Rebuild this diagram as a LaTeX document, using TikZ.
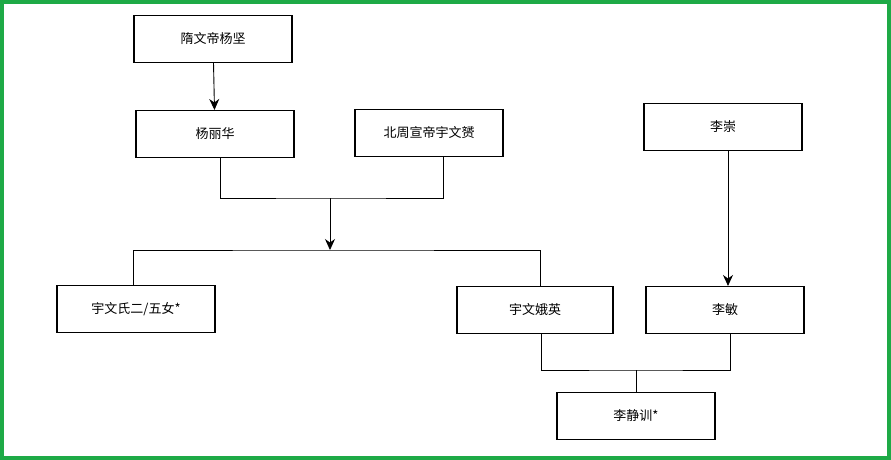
\documentclass[tikz,border=0pt]{standalone}
\usepackage{fontspec}
\setmainfont{Noto Sans CJK SC}
\usetikzlibrary{arrows.meta,positioning,calc}
\definecolor{framegreen}{RGB}{30, 170, 70}

\begin{document}
\begin{tikzpicture}[
    x=1pt, y=-1pt,
    person/.style={rectangle, draw, line width=1.1pt, minimum width=158pt, minimum height=47pt, font=\fontsize{13}{15}\selectfont, inner sep=0pt},
    arrow/.style={-{Stealth[length=11pt,width=10pt]}, line width=0.9pt},
    link/.style={line width=0.6pt}
]
% frame
\draw[framegreen, line width=4pt, fill=white] (2,2) rectangle (889,458);
\useasboundingbox (0,0) rectangle (891,460);

% persons
\node[person] (yangjian) at (213,39) {隋文帝杨坚};
\node[person] (lihua) at (215,134) {杨丽华};
\node[person, minimum width=148pt] (yuwenyun) at (429,133) {北周宣帝宇文赟};
\node[person] (lichong) at (723,127) {李崇};
\node[person] (daughter) at (136,309) {宇文氏二/五女*};
\node[person, minimum width=156pt] (eying) at (535,310) {宇文娥英};
\node[person] (limin) at (725,310) {李敏};
\node[person] (jingxun) at (636,416) {李静训*};

% junctions
\coordinate (m1) at (330,198);
\coordinate (c1) at (330,250);
\coordinate (m2) at (636,370);

% connectors
\draw[arrow] (yangjian) -- (lihua);
\draw[arrow] (lichong.south -| 728,0) -- (limin.north -| 728,0);
\draw[link] (lihua.south -| 220,0) |- (m1) -| (yuwenyun.south -| 443,0);
\draw[arrow] (m1) -- (c1);
\draw[link] (daughter.north -| 133,0) |- (c1) -| (eying.north -| 540,0);
\draw[link] (eying.south -| 541,0) |- (m2) -| (limin.south -| 730,0);
\draw[link] (m2) -- (jingxun);

\end{tikzpicture}
\end{document}
